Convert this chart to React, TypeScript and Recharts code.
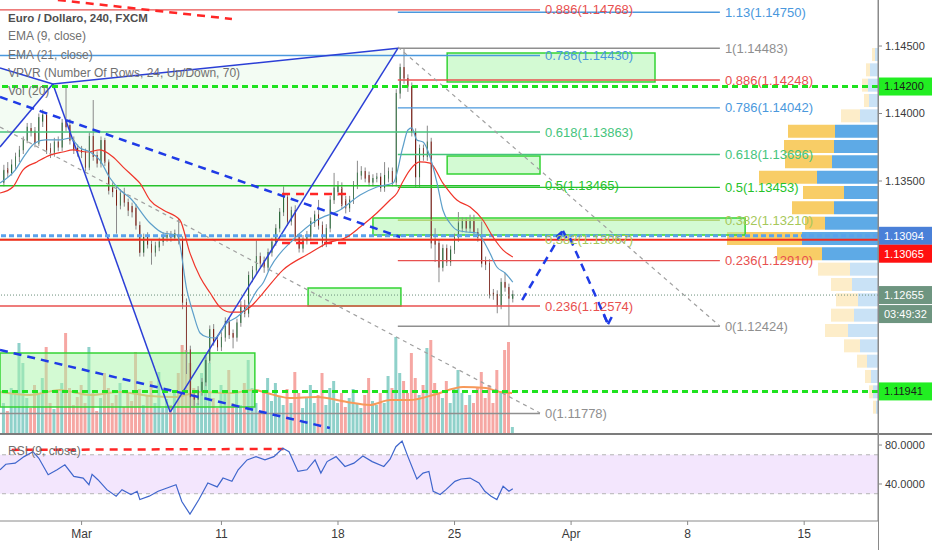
import React from "react";
import {
  Area,
  Bar,
  BarChart,
  Cell,
  ComposedChart,
  Line,
  ReferenceArea,
  ReferenceLine,
  XAxis,
  YAxis,
} from "recharts";

const FONT = '"Liberation Sans", Arial, sans-serif';
const W = 932;
const PLOT_W = 878;
const AXIS_W = W - PLOT_W;
const MAIN_H = 433;
const X_DOMAIN: [number, number] = [0, 226];
const PRICE_DOMAIN: [number, number] = [1.11633, 1.14841];
const RSI_DOMAIN: [number, number] = [2, 90.3];

// 4h candles, EUR/USD, bar index 1..132
const opens = [
  1.1349, 1.1359, 1.1356, 1.1361, 1.1368, 1.1373, 1.138, 1.1389, 1.1387, 1.1378,
  1.1394, 1.1399, 1.1374, 1.1371, 1.1379, 1.1375, 1.1395, 1.1391, 1.138, 1.1374,
  1.1373, 1.1371, 1.136, 1.1383, 1.1369, 1.1363, 1.138, 1.1364, 1.1345, 1.1343,
  1.1332, 1.1341, 1.1334, 1.1331, 1.133, 1.1317, 1.1297, 1.1308, 1.1303, 1.1297,
  1.1301, 1.1305, 1.1308, 1.131, 1.1308, 1.131, 1.1306, 1.126, 1.1225, 1.1191,
  1.1188, 1.1194, 1.1201, 1.1217, 1.124, 1.1232, 1.1227, 1.1234, 1.1246, 1.1237,
  1.1234, 1.1245, 1.1258, 1.1252, 1.1278, 1.1284, 1.1294, 1.1291, 1.1286, 1.1297,
  1.1305, 1.1315, 1.1327, 1.1338, 1.132, 1.1328, 1.1308, 1.13, 1.1306, 1.1309,
  1.1319, 1.1325, 1.1317, 1.1304, 1.1315, 1.1336, 1.1342, 1.1345, 1.1336, 1.133,
  1.1336, 1.1347, 1.1354, 1.1357, 1.1354, 1.1349, 1.1352, 1.1353, 1.1345, 1.1352,
  1.1357, 1.1349, 1.1415, 1.1434, 1.1426, 1.142, 1.1386, 1.1353, 1.1374, 1.1368,
  1.1379, 1.1306, 1.1304, 1.1286, 1.13, 1.129, 1.1299, 1.1308, 1.1315, 1.132,
  1.1315, 1.132, 1.1312, 1.1308, 1.1291, 1.1289, 1.1267, 1.1266, 1.1258, 1.1275,
  1.1271, 1.1263,
];
const highs = [
  1.1362, 1.1364, 1.1366, 1.1371, 1.1376, 1.1383, 1.1393, 1.1393, 1.139, 1.14,
  1.1403, 1.1401, 1.1378, 1.1382, 1.1383, 1.1396, 1.1421, 1.1396, 1.1383, 1.1377,
  1.1376, 1.1374, 1.1386, 1.141, 1.1372, 1.1383, 1.1382, 1.1366, 1.1349, 1.1346,
  1.1344, 1.1345, 1.1337, 1.1334, 1.1333, 1.132, 1.1311, 1.1312, 1.1306, 1.1305,
  1.1308, 1.1312, 1.1313, 1.1313, 1.1314, 1.1322, 1.1309, 1.1263, 1.1228, 1.1195,
  1.1198, 1.1204, 1.122, 1.1243, 1.1244, 1.1236, 1.1238, 1.1249, 1.1249, 1.124,
  1.1248, 1.1261, 1.1262, 1.1283, 1.1287, 1.1306, 1.1297, 1.1294, 1.13, 1.1308,
  1.1318, 1.133, 1.1346, 1.1341, 1.1331, 1.1332, 1.1311, 1.131, 1.1313, 1.1323,
  1.1328, 1.1336, 1.132, 1.1318, 1.1339, 1.1356, 1.135, 1.1349, 1.1339, 1.1339,
  1.135, 1.1365, 1.1361, 1.136, 1.1357, 1.1355, 1.1356, 1.1356, 1.1364, 1.136,
  1.136, 1.1418, 1.1437, 1.1448, 1.1429, 1.1423, 1.1389, 1.1377, 1.1377, 1.1391,
  1.1382, 1.1315, 1.1307, 1.1303, 1.1303, 1.1302, 1.1311, 1.1327, 1.1323, 1.1323,
  1.1325, 1.1325, 1.1315, 1.132, 1.1294, 1.1292, 1.127, 1.1269, 1.1278, 1.1282,
  1.1274, 1.1269,
];
const lows = [
  1.1346, 1.1353, 1.1354, 1.1358, 1.1364, 1.137, 1.1378, 1.1383, 1.1375, 1.1376,
  1.139, 1.137, 1.1367, 1.1368, 1.1372, 1.1372, 1.1387, 1.1377, 1.137, 1.1368,
  1.1367, 1.1357, 1.1358, 1.1365, 1.136, 1.136, 1.1361, 1.134, 1.1338, 1.1311,
  1.1329, 1.1331, 1.1324, 1.1323, 1.1314, 1.1294, 1.1294, 1.13, 1.1288, 1.1294,
  1.1298, 1.1302, 1.1305, 1.1305, 1.1306, 1.1303, 1.1255, 1.1207, 1.1178, 1.1183,
  1.1184, 1.1191, 1.1198, 1.1215, 1.1228, 1.1224, 1.1224, 1.1231, 1.1233, 1.1226,
  1.1231, 1.1242, 1.1249, 1.1249, 1.1275, 1.1281, 1.1286, 1.1282, 1.1283, 1.1294,
  1.1302, 1.1312, 1.1324, 1.1317, 1.1317, 1.1305, 1.1297, 1.1297, 1.1303, 1.1306,
  1.1316, 1.1314, 1.1301, 1.1301, 1.1312, 1.1333, 1.1339, 1.1329, 1.1326, 1.1327,
  1.1333, 1.1344, 1.1351, 1.1349, 1.1346, 1.1346, 1.1349, 1.1342, 1.1342, 1.1349,
  1.1346, 1.1346, 1.1411, 1.1422, 1.1416, 1.1383, 1.1345, 1.1345, 1.1365, 1.1365,
  1.13, 1.129, 1.1275, 1.1283, 1.1287, 1.1287, 1.1296, 1.1305, 1.1312, 1.1312,
  1.1312, 1.1309, 1.1305, 1.1286, 1.1284, 1.1263, 1.1262, 1.1252, 1.1255, 1.1268,
  1.1242, 1.126,
];
const closes = [
  1.1358, 1.1356, 1.1362, 1.1368, 1.1373, 1.138, 1.139, 1.1386, 1.1378, 1.1397,
  1.1399, 1.1373, 1.1371, 1.1379, 1.1375, 1.1393, 1.139, 1.138, 1.1373, 1.1372,
  1.1371, 1.136, 1.1383, 1.1368, 1.1363, 1.138, 1.1364, 1.1343, 1.1342, 1.1332,
  1.1341, 1.1334, 1.1328, 1.1327, 1.1317, 1.1297, 1.1308, 1.1303, 1.1297, 1.1302,
  1.1305, 1.1309, 1.131, 1.1308, 1.1311, 1.1306, 1.126, 1.1225, 1.119, 1.1188,
  1.1195, 1.1201, 1.1217, 1.124, 1.1231, 1.1227, 1.1234, 1.1246, 1.1236, 1.1234,
  1.1245, 1.1258, 1.1252, 1.128, 1.1284, 1.1294, 1.1289, 1.1286, 1.1297, 1.1305,
  1.1315, 1.1327, 1.1338, 1.132, 1.1328, 1.1308, 1.13, 1.1307, 1.131, 1.132,
  1.1325, 1.1317, 1.1304, 1.1315, 1.1336, 1.1345, 1.1346, 1.1332, 1.133, 1.1336,
  1.1347, 1.1356, 1.1357, 1.1352, 1.1349, 1.1352, 1.1353, 1.1345, 1.1354, 1.1357,
  1.1349, 1.1415, 1.1434, 1.1426, 1.142, 1.1386, 1.1353, 1.1374, 1.1368, 1.1379,
  1.1304, 1.1303, 1.1286, 1.13, 1.129, 1.1299, 1.1308, 1.1319, 1.132, 1.1315,
  1.132, 1.1312, 1.1308, 1.1289, 1.1288, 1.1266, 1.1265, 1.1258, 1.1275, 1.1271,
  1.1263, 1.1266,
];
const volumes = [
  30, 22, 45, 38, 90, 70, 35, 25, 48, 40,
  55, 86, 30, 24, 42, 50, 100, 45, 28, 36,
  48, 30, 86, 40, 22, 35, 60, 45, 30, 38,
  50, 26, 40, 32, 81, 44, 28, 38, 52, 30,
  61, 25, 34, 28, 40, 60, 88, 83, 70, 45,
  30, 60, 78, 70, 35, 25, 48, 40, 63, 30,
  42, 28, 50, 73, 45, 30, 22, 40, 55, 32,
  50, 36, 28, 44, 30, 61, 40, 25, 35, 48,
  30, 38, 60, 28, 45, 52, 30, 40, 26, 35,
  44, 30, 25, 38, 55, 32, 28, 40, 30, 57,
  45, 96, 60, 52, 40, 80, 55, 38, 48, 85,
  93, 50, 40, 35, 52, 30, 45, 63, 40, 28,
  38, 30, 45, 61, 35, 48, 30, 63, 40, 83,
  91, 6,
];

// indicator readings (bar index, value)
const ema9Idx = [0, 3.9, 6.4, 9, 11.6, 15.4, 18, 20.6, 23.2, 25.7, 28.3, 30.9, 33.5, 38.6, 42, 45.6, 48.1, 49.7, 51.5, 53.3, 55.3, 58.4, 61, 63.6, 66.2, 67.7, 69.5, 75.4, 81.6, 87.5, 92.7, 97, 101.2, 103.7, 105, 106, 107.3, 108.9, 110.7, 112.5, 114, 115.8, 117.6, 120.2, 122.8, 124.3, 126.1, 127.9, 130, 132];
const ema9Val = [1.13485, 1.13581, 1.13692, 1.13781, 1.13804, 1.13804, 1.13818, 1.13744, 1.13715, 1.13655, 1.13522, 1.13433, 1.13374, 1.13189, 1.13115, 1.131, 1.12692, 1.12522, 1.12374, 1.12344, 1.12337, 1.12448, 1.12492, 1.12566, 1.12692, 1.12744, 1.12855, 1.13063, 1.13211, 1.13285, 1.13396, 1.13456, 1.13485, 1.13752, 1.13878, 1.13893, 1.13804, 1.13789, 1.13678, 1.13485, 1.13285, 1.13189, 1.13137, 1.13122, 1.13115, 1.13063, 1.12966, 1.12863, 1.12818, 1.12751];
const ema21Idx = [0, 3.3, 5.9, 9.5, 12.9, 16.2, 18.8, 22.4, 25.7, 29.1, 31.7, 34.7, 36, 38.6, 42, 46.3, 48.9, 51.5, 54.1, 56.6, 59.2, 61.8, 64.4, 67.7, 72.8, 79.8, 84.2, 89.3, 92.7, 97, 100.4, 102.2, 103.5, 105.5, 108.1, 110.7, 114, 117.6, 121, 124.3, 126.9, 129.5, 132];
const ema21Val = [1.13411, 1.13456, 1.13581, 1.13641, 1.13692, 1.13715, 1.1373, 1.13715, 1.1373, 1.13678, 1.13603, 1.13522, 1.13485, 1.13359, 1.13285, 1.13211, 1.12966, 1.12788, 1.1267, 1.12566, 1.12529, 1.12529, 1.12566, 1.1267, 1.1284, 1.12966, 1.1304, 1.13085, 1.13159, 1.13263, 1.13359, 1.13411, 1.13485, 1.13581, 1.13641, 1.13633, 1.13485, 1.13359, 1.13307, 1.13211, 1.13085, 1.12988, 1.12937];
const volMaIdx = [0, 7.7, 15.4, 23.2, 30.9, 38.6, 45, 51.5, 59.2, 65.6, 68.7, 74.6, 81.6, 89.3, 95.2, 100.4, 105.5, 111.5, 119.2, 125.1, 128.7, 131.8];
const volMaVal = [41, 38, 43, 38, 41, 37, 36, 41, 40, 43, 40, 35, 36, 31, 28, 33, 33, 38, 46, 45, 41, 40];
const rsiIdx = [0, 1.5, 3.9, 6.2, 8.5, 10, 12.4, 14.7, 16.7, 19, 21.4, 22.9, 23.7, 25.2, 27.5, 29.9, 31.4, 33.7, 35.3, 36, 38.4, 40.7, 43, 45.3, 46.8, 48.9, 51.2, 53.5, 55.9, 57.4, 59.7, 61.3, 63.6, 65.9, 68.2, 70.5, 72.8, 74.4, 76.7, 79, 81.1, 82.6, 84.2, 86.5, 88.8, 91.1, 93.4, 95.8, 98.8, 100.4, 101.9, 103.5, 105, 107.3, 108.9, 110.4, 111.5, 113.3, 114.8, 117.1, 118.7, 121, 123.3, 124.8, 126.4, 127.9, 129.5, 131, 132];
const rsiVal = [54.6, 60.3, 61.4, 68.1, 73.2, 66.4, 49.5, 54.6, 59.7, 47.8, 46.1, 39.3, 50, 44.4, 34.2, 27.5, 34.2, 29.2, 32.5, 24, 27.5, 32.5, 35.9, 39.3, 22, 9, 24, 41, 37, 46.1, 42.7, 54.6, 64.7, 68.1, 64.7, 68.1, 76.6, 73.2, 52.9, 54.6, 64.7, 51.2, 63, 68.1, 58, 61.4, 68.8, 63, 58, 65.4, 78.3, 84, 68.1, 45.1, 51.2, 52.9, 32.5, 29.2, 34.2, 42.7, 45.1, 46.1, 41, 32.5, 27.5, 24, 37.6, 32.5, 35.2];

// volume profile, 24 rows from top to bottom
const vpUp = [3, 8, 10, 9, 18, 43, 44, 46, 61, 34, 44, 53, 76, 56, 28, 26, 20, 24, 30, 18, 11, 7, 5, 2];
const vpDown = [3, 4, 6, 5, 19, 47, 50, 47, 58, 41, 42, 20, 75, 45, 32, 21, 22, 23, 23, 16, 10, 6, 4, 3];
const vpValueArea = [false, false, false, false, false, true, true, true, true, true, true, true, true, true, false, false, false, false, false, false, false, false, false, false];

// fibonacci retracements
const fibALevels = ["0.886", "0.786", "0.618", "0.5", "0.382", "0.236", "0"];
const fibAPrices = [1.14768, 1.1443, 1.13863, 1.13465, 1.13067, 1.12574, 1.11778];
const fibASpan = [0, 139];
const fibBLevels = ["1.13", "1", "0.886", "0.786", "0.618", "0.5", "0.382", "0.236", "0"];
const fibBPrices = [1.1475, 1.14483, 1.14248, 1.14042, 1.13696, 1.13453, 1.1321, 1.1291, 1.12424];
const fibBSpan = [102.4, 185.3];
const fibColors: Record<string, string> = {
  "1.13": "#4a98dd",
  "1": "#8f8f8f",
  "0.886": "#e8504f",
  "0.786": "#4a98dd",
  "0.618": "#45c47c",
  "0.5": "#26c22b",
  "0.382": "#a6c85a",
  "0.236": "#e8504f",
  "0": "#8f8f8f",
};

// harmonic pattern pivots: X1, X2, A, B, C
const pivotIdx = [0, 0, 13.6, 43.8, 102.4];
const pivotPrice = [1.14337, 1.13752, 1.14219, 1.11788, 1.14483];

// rectangles (bar index range, price range)
const boxI1 = [115.1, 115.1, 96, 79.3, 0];
const boxI2 = [168.6, 139, 191.8, 103.2, 65.6];
const boxTop = [1.14448, 1.13685, 1.13226, 1.12707, 1.12225];
const boxBottom = [1.14233, 1.13552, 1.131, 1.12574, 1.11825];

// trend lines [i1, p1, i2, p2]
const blueDashed = [
  [0, 1.14122, 103, 1.13085],
  [0, 1.12248, 84.9, 1.1167],
  [134.4, 1.12618, 144.9, 1.1313],
  [143.2, 1.13085, 144.9, 1.1313],
  [144.9, 1.1313, 146.0, 1.1307],
  [146.7, 1.13077, 156.5, 1.1244],
  [155.4, 1.12514, 156.5, 1.1244],
  [156.5, 1.1244, 158.0, 1.12522],
];
const redDashed = [
  [72.6, 1.13403, 90, 1.13403],
  [72.6, 1.1304, 90, 1.1304],
  [14.9, 1.14841, 59.7, 1.147],
];
const grayDashed = [
  [0, 1.139, 139, 1.11781],
  [102.4, 1.14493, 185.3, 1.12425],
];

const priceTicks = [1.135, 1.14, 1.145];
const dateTicks = [21, 57, 87, 117, 147, 177, 207];
const dateLabels = ["Mar", "11", "18", "25", "Apr", "8", "15"];

const bars = opens.map((open, k) => ({
  i: k + 1,
  open,
  high: highs[k],
  low: lows[k],
  close: closes[k],
  vol: volumes[k],
  range: [lows[k], highs[k]],
}));
const ema9Pts = ema9Idx.map((i, k) => ({ i, v: ema9Val[k] }));
const ema21Pts = ema21Idx.map((i, k) => ({ i, v: ema21Val[k] }));
const volMaPts = volMaIdx.map((i, k) => ({ i, v: volMaVal[k] }));
const rsiPts = rsiIdx.map((i, k) => ({ i, v: rsiVal[k] }));
const vpRows = vpUp.map((up, k) => ({ row: k, up, down: vpDown[k] }));

const [X1, X2, A, B, C] = pivotIdx.map((i, k) => ({ i, p: pivotPrice[k] }));
const acAtB = A.p + ((C.p - A.p) * (B.i - A.i)) / (C.i - A.i);
const leftWedge = [
  { i: X1.i, r: [X2.p, X1.p] },
  { i: A.i, r: [A.p, A.p] },
];
const abcWedge = [
  { i: A.i, r: [A.p, A.p] },
  { i: B.i, r: [B.p, acAtB] },
  { i: C.i, r: [C.p, C.p] },
];
const patternLines = [
  [X1, A],
  [X2, A],
  [A, B],
  [B, C],
  [A, C],
];

function Candle(props: any) {
  const { x, y, width, height, payload } = props;
  if (!payload || x == null) return null;
  const { open, close, high, low } = payload;
  const top = Math.min(y, y + height);
  const h = Math.abs(height);
  const span = high - low || 1e-9;
  const yOf = (p: number) => top + ((high - p) / span) * h;
  const up = close >= open;
  const bTop = yOf(Math.max(open, close));
  const bBot = yOf(Math.min(open, close));
  const cx = x + width / 2;
  return (
    <g>
      <line x1={cx} x2={cx} y1={top} y2={top + h} stroke="#8a8a8a" strokeWidth={1} />
      <rect
        x={x}
        y={bTop}
        width={width}
        height={Math.max(1, bBot - bTop)}
        fill={up ? "#4b9a5e" : "#c23a2b"}
        stroke={up ? "#2d6a3c" : "#7a1f16"}
        strokeWidth={0.6}
      />
    </g>
  );
}

function axisTag(text: string, bg: string, fg: string, dy = 0, extra?: string) {
  return (props: any) => {
    const vb = props.viewBox;
    if (!vb) return null;
    const x = vb.x + vb.width + 1;
    const y = vb.y + dy;
    return (
      <g>
        <rect x={x} y={y - 9} width={AXIS_W - 1} height={18} fill={bg} />
        <text x={x + 5} y={y} dy="0.36em" fontSize={11} fill={fg}>
          {text}
        </text>
        {extra ? (
          <g>
            <rect x={x} y={y + 10} width={AXIS_W - 1} height={18} fill={bg} />
            <text x={x + 5} y={y + 19} dy="0.36em" fontSize={11} fill={fg}>
              {extra}
            </text>
          </g>
        ) : null}
      </g>
    );
  };
}

function fibLines(levels: string[], prices: number[], span: number[]) {
  return levels.map((lv, k) => (
    <ReferenceLine
      key={`${lv}-${span[0]}`}
      segment={[
        { x: span[0], y: prices[k] },
        { x: span[1], y: prices[k] },
      ]}
      stroke={fibColors[lv]}
      strokeWidth={1.4}
      ifOverflow="visible"
      label={{
        value: `${lv}(${prices[k].toFixed(5)})`,
        position: "right",
        fill: fibColors[lv],
        fontSize: 13,
        offset: 5,
      }}
    />
  ));
}

function segLines(list: number[][], stroke: string, width: number, dash: string, tag: string) {
  return list.map((s, k) => (
    <ReferenceLine
      key={`${tag}${k}`}
      segment={[
        { x: s[0], y: s[1] },
        { x: s[2], y: s[3] },
      ]}
      stroke={stroke}
      strokeWidth={width}
      strokeDasharray={dash}
      ifOverflow="visible"
    />
  ));
}

function VolumeChart() {
  return (
    <ComposedChart width={W} height={MAIN_H} data={bars} margin={{ top: 0, right: AXIS_W, bottom: 0, left: 0 }}>
      <XAxis dataKey="i" type="number" domain={X_DOMAIN} hide allowDataOverflow />
      <YAxis hide domain={[0, MAIN_H]} allowDataOverflow />
      <Bar dataKey="vol" barSize={3} isAnimationActive={false}>
        {bars.map((b) => (
          <Cell key={b.i} fill={b.close >= b.open ? "#8fd1ca" : "#f6a7a3"} />
        ))}
      </Bar>
    </ComposedChart>
  );
}

function VolumeAverage() {
  return (
    <ComposedChart width={W} height={MAIN_H} data={volMaPts} margin={{ top: 0, right: AXIS_W, bottom: 0, left: 0 }}>
      <XAxis dataKey="i" type="number" domain={X_DOMAIN} hide allowDataOverflow />
      <YAxis hide domain={[0, MAIN_H]} allowDataOverflow />
      <Line dataKey="v" type="monotone" stroke="#f7995a" strokeWidth={2} dot={false} isAnimationActive={false} />
    </ComposedChart>
  );
}

function VolumeProfile() {
  return (
    <BarChart width={200} height={368} data={vpRows} layout="vertical" margin={{ top: 0, right: 0, bottom: 0, left: 0 }} barCategoryGap={1}>
      <XAxis type="number" domain={[0, 200]} reversed hide />
      <YAxis type="category" dataKey="row" hide />
      <Bar dataKey="up" stackId="vp" isAnimationActive={false}>
        {vpRows.map((r) => (
          <Cell key={r.row} fill={vpValueArea[r.row] ? "#5eaae6" : "#c9e2f6"} />
        ))}
      </Bar>
      <Bar dataKey="down" stackId="vp" isAnimationActive={false}>
        {vpRows.map((r) => (
          <Cell key={r.row} fill={vpValueArea[r.row] ? "#f8cd66" : "#fdedc9"} />
        ))}
      </Bar>
    </BarChart>
  );
}

function MainChart() {
  return (
    <ComposedChart width={W} height={MAIN_H} data={bars} margin={{ top: 0, right: 0, bottom: 0, left: 0 }}>
      <XAxis dataKey="i" type="number" domain={X_DOMAIN} hide allowDataOverflow />
      <YAxis
        orientation="right"
        width={AXIS_W}
        domain={PRICE_DOMAIN}
        allowDataOverflow
        ticks={priceTicks}
        tickFormatter={(v: number) => v.toFixed(5)}
        tick={{ fontSize: 11, fill: "#3a3a3a" }}
        tickSize={4}
        tickMargin={3}
        axisLine={{ stroke: "#8a8a8a" }}
        tickLine={{ stroke: "#8a8a8a" }}
      />
      <Area data={leftWedge} dataKey="r" type="linear" stroke="none" fill="#5ad65a" fillOpacity={0.07} isAnimationActive={false} />
      <Area data={abcWedge} dataKey="r" type="linear" stroke="none" fill="#5ad65a" fillOpacity={0.07} isAnimationActive={false} />
      {boxI1.map((x1, k) => (
        <ReferenceArea
          key={`box${k}`}
          x1={x1}
          x2={boxI2[k]}
          y1={boxBottom[k]}
          y2={boxTop[k]}
          fill="#a8f5a8"
          fillOpacity={0.5}
          stroke="#35d435"
          strokeWidth={1.5}
          ifOverflow="visible"
        />
      ))}
      {fibLines(fibALevels, fibAPrices, fibASpan)}
      {fibLines(fibBLevels, fibBPrices, fibBSpan)}
      {segLines(grayDashed, "#a0a0a0", 1.2, "4 4", "g")}
      {patternLines.map(([p, q], k) => (
        <ReferenceLine
          key={`pat${k}`}
          segment={[
            { x: p.i, y: p.p },
            { x: q.i, y: q.p },
          ]}
          stroke="#2b3fd6"
          strokeWidth={1.5}
          ifOverflow="visible"
        />
      ))}
      <ReferenceLine y={1.12655} stroke="#6b8f7a" strokeDasharray="1 2" label={axisTag("1.12655", "#6e9580", "#ffffff", 0, "03:49:32")} />
      <ReferenceLine y={1.13094} stroke="#5aa2ec" strokeWidth={3} strokeDasharray="5 3" label={axisTag("1.13094", "#4a80d8", "#ffffff")} />
      <ReferenceLine y={1.13065} stroke="#f22b1e" strokeWidth={2} label={axisTag("1.13065", "#ff1010", "#ffffff", 14)} />
      <ReferenceLine y={1.142} stroke="#1fe21f" strokeWidth={3} strokeDasharray="6 4" label={axisTag("1.14200", "#22ee22", "#1a1a1a")} />
      <ReferenceLine y={1.11941} stroke="#1fe21f" strokeWidth={3} strokeDasharray="6 4" label={axisTag("1.11941", "#22ee22", "#1a1a1a")} />
      <Line data={ema21Pts} dataKey="v" type="monotone" stroke="#f0352a" strokeWidth={1.2} dot={false} isAnimationActive={false} />
      <Line data={ema9Pts} dataKey="v" type="monotone" stroke="#5d9fca" strokeWidth={1.2} dot={false} isAnimationActive={false} />
      <Bar dataKey="range" barSize={3} shape={(p: any) => <Candle {...p} />} isAnimationActive={false} />
      {segLines(blueDashed, "#1f3be6", 2.5, "8 6", "b")}
      {segLines(redDashed, "#ff2626", 2.5, "8 6", "r")}
    </ComposedChart>
  );
}

function RsiChart() {
  return (
    <ComposedChart width={W} height={115} data={rsiPts} margin={{ top: 0, right: 0, bottom: 0, left: 0 }}>
      <XAxis
        dataKey="i"
        type="number"
        domain={X_DOMAIN}
        allowDataOverflow
        ticks={dateTicks}
        interval={0}
        tickFormatter={(v: number) => dateLabels[dateTicks.indexOf(v)] ?? ""}
        height={29}
        tick={{ fontSize: 12, fill: "#3a3a3a" }}
        tickSize={4}
        tickMargin={4}
        axisLine={{ stroke: "#8a8a8a" }}
        tickLine={{ stroke: "#8a8a8a" }}
      />
      <YAxis
        orientation="right"
        width={AXIS_W}
        domain={RSI_DOMAIN}
        allowDataOverflow
        ticks={[40, 80]}
        tickFormatter={(v: number) => v.toFixed(4)}
        tick={{ fontSize: 11, fill: "#3a3a3a" }}
        tickSize={4}
        tickMargin={3}
        axisLine={{ stroke: "#8a8a8a" }}
        tickLine={{ stroke: "#8a8a8a" }}
      />
      <ReferenceArea y1={30} y2={70} fill="#f3e6fd" fillOpacity={1} stroke="none" />
      <ReferenceLine y={70} stroke="#b4b4b4" strokeDasharray="4 4" />
      <ReferenceLine y={30} stroke="#b4b4b4" strokeDasharray="4 4" />
      <ReferenceLine
        segment={[
          { x: 3, y: 75 },
          { x: 73, y: 76 },
        ]}
        stroke="#ff2626"
        strokeWidth={2.5}
        strokeDasharray="8 6"
        ifOverflow="visible"
      />
      <Line dataKey="v" type="linear" stroke="#3f66cc" strokeWidth={1.2} dot={false} isAnimationActive={false} />
    </ComposedChart>
  );
}

const legendLines = ["EMA (9, close)", "EMA (21, close)", "VPVR (Number Of Rows, 24, Up/Down, 70)", "Vol (20)"];

export default function App() {
  return (
    <div
      style={{
        position: "absolute",
        left: 0,
        top: 0,
        width: W,
        height: 550,
        background: "#ffffff",
        fontFamily: FONT,
        overflow: "hidden",
      }}
    >
      <div style={{ position: "absolute", left: 0, top: 0 }}>
        <VolumeChart />
      </div>
      <div style={{ position: "absolute", left: 0, top: 0 }}>
        <VolumeAverage />
      </div>
      <div style={{ position: "absolute", left: PLOT_W - 200, top: 47 }}>
        <VolumeProfile />
      </div>
      <div style={{ position: "absolute", left: 0, top: 0 }}>
        <MainChart />
      </div>
      <div style={{ position: "absolute", left: 0, top: 433, width: W, height: 2, background: "#7c7c7c" }} />
      <div style={{ position: "absolute", left: 0, top: 435 }}>
        <RsiChart />
      </div>
      <div style={{ position: "absolute", left: PLOT_W, top: 0, width: 1, height: 550, background: "#8a8a8a" }} />
      <div style={{ position: "absolute", left: 8, top: 9, lineHeight: "18.3px", pointerEvents: "none" }}>
        <div style={{ fontSize: 11.5, fontWeight: 700, color: "#4e4e4e" }}>Euro / Dollaro, 240, FXCM</div>
        {legendLines.map((t) => (
          <div key={t} style={{ fontSize: 12, color: "#707070" }}>
            {t}
          </div>
        ))}
      </div>
      <div style={{ position: "absolute", left: 8, top: 444, fontSize: 12, color: "#707070" }}>RSI (9, close)</div>
    </div>
  );
}
